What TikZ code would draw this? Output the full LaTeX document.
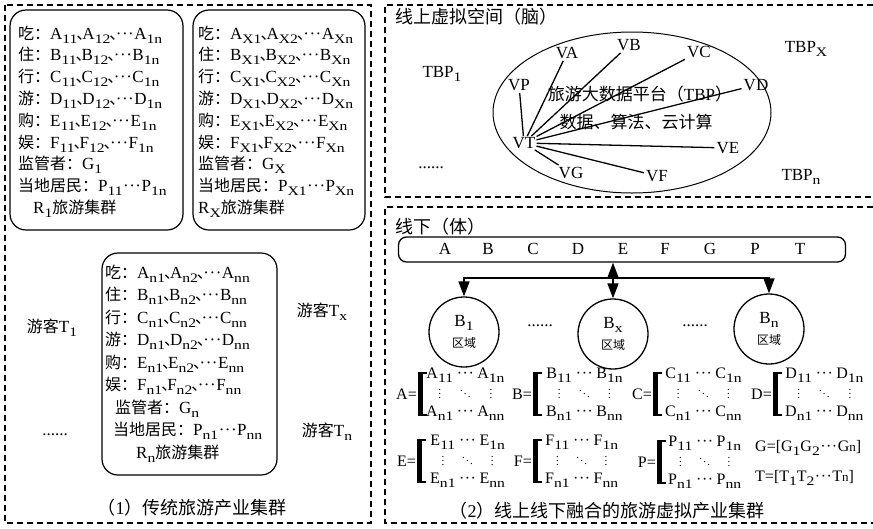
\documentclass[tikz,border=0pt]{standalone}
\usepackage{fontspec}
\setmainfont{Liberation Serif}
\newfontfamily\cjk{Noto Sans CJK SC}
\newfontfamily\subf[FakeStretch=1.2]{Liberation Serif}
\usetikzlibrary{arrows.meta,shapes.geometric}
\newcommand\zh[1]{{\cjk #1}}
\newcommand\zb[1]{{\cjk\fontsize{16}{21}\selectfont #1}}
\newcommand\dn{\makebox[5pt][l]{\kern-1pt\cjk\fontsize{16}{21}\selectfont 、}}
\newcommand\sbs[1]{\raisebox{-4pt}{\subf\fontsize{13}{13}\selectfont #1}}
\newcommand\ddd{\kern0.5pt·\kern0.5pt·\kern0.5pt·\kern0.5pt}
\newcommand\vd{\smash{\raisebox{-1pt}{\fontsize{11}{11}\selectfont$\vdots$}}}
\newcommand\dd{\smash{\raisebox{-1pt}{\fontsize{11}{11}\selectfont$\ddots$}}}

\tikzset{
 frame/.style={draw, line width=1.4pt, dash pattern=on 6pt off 4pt},
 rbox/.style={draw, line width=1.2pt, rounded corners=16pt},
 txt/.style={inner sep=0pt, font=\fontsize{17}{21}\selectfont},
 ln/.style={txt, anchor=base west},
 lbl/.style={inner sep=0pt, font=\fontsize{18}{22}\selectfont},
 vlab/.style={inner sep=2pt, font=\fontsize{17}{20}\selectfont},
 spoke/.style={line width=1.3pt},
 circ/.style={draw, circle, line width=1.3pt, minimum size=70pt, inner sep=0pt, align=center, font=\fontsize{17}{21}\selectfont},
 arr/.style={line width=1.4pt, -{Triangle[length=15pt,width=11pt]}},
 mt/.style={inner sep=0pt, font=\fontsize{16}{19}\selectfont},
 brk/.style={line width=1.2pt},
 brkt/.style={line width=3.5pt},
}

\newcommand\mtx[4]{%
  \node[mt, anchor=east] (#1eq) at (#2-2,#3) {#1=};
  \draw[brk] (#2+8,#3-21) -- (#2,#3-21) -- (#2,#3+21) -- (#2+8,#3+21);
  \draw[brkt] (#2+1.75,#3-21) -- (#2+1.75,#3+21);
  \node[mt, anchor=west] (#1m) at (#2+#4,#3) {\begin{tabular}{@{}c@{\hspace{3pt}}c@{\hspace{3pt}}c@{}}
    #1\sbs{11} & \ddd & #1\sbs{1n}\\
    \vd & \dd & \vd\\
    #1\sbs{n1} & \ddd & #1\sbs{nn}
  \end{tabular}};
}

\begin{document}
\begin{tikzpicture}[x=1pt,y=-1pt]
\useasboundingbox (0,0) rectangle (873,528);

% ---------- frames ----------
\draw[frame] (5,5) rectangle (371,523);
\draw[frame] (873,5) -- (385,5) -- (385,197) -- (873,197);
\draw[frame] (873,207) -- (385,207) -- (385,523) -- (873,523);

% ---------- left: traditional clusters ----------
\draw[rbox] (10,10) rectangle (183,230);
\draw[rbox] (193,10) rectangle (365,230);
\draw[rbox] (102,253) rectangle (277,475);

\foreach \L/\c [count=\i] in {A/吃,B/住,C/行,D/游,E/购,F/娱} {
  \node[ln] (r1\L) at (18,{39+21.8*(\i-1)}) {\zb{\c：}\L\sbs{11}\dn\L\sbs{12}\dn\ddd\L\sbs{1n}};
  \node[ln] (rx\L) at (198,{39+21.8*(\i-1)}) {\zb{\c：}\L\sbs{X1}\dn\L\sbs{X2}\dn\ddd\L\sbs{Xn}};
  \node[ln] (rn\L) at (105,{278+22.5*(\i-1)}) {\zb{\c：}\L\sbs{n1}\dn\L\sbs{n2}\dn\ddd\L\sbs{nn}};
}
\node[ln] (r1G) at (18,169.8) {\zb{监管者：}G\sbs{1}};
\node[ln] (r1P) at (18,191.6) {\zb{当地居民：}P\sbs{11}\ddd P\sbs{1n}};
\node[ln] (r1R) at (33,213.4) {R\sbs{1}\zb{旅游集群}};
\node[ln] (rxG) at (198,169.8) {\zb{监管者：}G\sbs{X}};
\node[ln] (rxP) at (198,191.6) {\zb{当地居民：}P\sbs{X1}\ddd P\sbs{Xn}};
\node[ln] (rxR) at (198,213.4) {R\sbs{X}\zb{旅游集群}};
\node[ln] (rnG) at (115,413) {\zb{监管者：}G\sbs{n}};
\node[ln] (rnP) at (113,435.5) {\zb{当地居民：}P\sbs{n1}\ddd P\sbs{nn}};
\node[ln] (rnR) at (136,458) {R\sbs{n}\zb{旅游集群}};

\node[txt] (t1) at (52,328) {\zb{游客}T\sbs{1}};
\node[txt] (tx) at (322,312) {\zb{游客}T\sbs{x}};
\node[txt] (tn) at (327,432) {\zb{游客}T\sbs{n}};
\node[txt] (ldots) at (55,435) {......};
\node[lbl] (cap1) at (192,508) {\zh{（}1\zh{）传统旅游产业集群}};

% ---------- right top: online space ----------
\node[lbl, anchor=base west] (online) at (395,23) {\zh{线上虚拟空间（脑）}};
\node[draw, ellipse, line width=1pt, minimum width=278pt, minimum height=161pt, inner sep=0pt] (plat) at (632,112.5) {};
\node[lbl, font=\fontsize{17}{21}\selectfont] (platA) at (640,94) {\zh{旅游大数据平台（}TBP\zh{）}};
\node[lbl, font=\fontsize{17}{21}\selectfont] (platB) at (636,122) {\zh{数据、算法、云计算}};

\node[vlab, inner sep=1pt] (VT) at (524,143) {VT};
\node[vlab] (VP) at (519,85) {VP};
\node[vlab] (VA) at (567,53) {VA};
\node[vlab] (VB) at (629,45) {VB};
\node[vlab] (VC) at (699,52) {VC};
\node[vlab] (VD) at (756,85) {VD};
\node[vlab] (VE) at (728,148) {VE};
\node[vlab] (VF) at (657,176) {VF};
\node[vlab] (VG) at (571,173) {VG};
\foreach \t in {VP,VA,VB,VC,VD,VE,VF,VG} \draw[spoke] (VT) -- (\t);

\node[txt] (tbp1) at (442,74) {TBP\sbs{1}};
\node[txt] (tbpx) at (806,49) {TBP\sbs{X}};
\node[txt] (tbpn) at (801,177) {TBP\sbs{n}};
\node[txt] (rdots) at (431,168) {......};

% ---------- right bottom: offline ----------
\node[lbl, anchor=base west] (offline) at (395,233) {\zh{线下（体）}};
\node[draw, rounded corners=8pt, line width=1.3pt, minimum width=447pt, minimum height=25pt, inner sep=0pt] (bar) at (622,249.5) {};
\foreach \L/\xx in {A/445,B/488,C/533,D/578,E/623,F/665,G/710,P/755,T/800}
  \node[txt] (bar\L) at (\xx,249) {\L};

\node[circ] (B1) at (464,332) {B\sbs{1}\\{\cjk\fontsize{12}{14}\selectfont 区域}};
\node[circ] (Bx) at (613,334) {B\sbs{x}\\{\cjk\fontsize{12}{14}\selectfont 区域}};
\node[circ] (Bn) at (769,329) {B\sbs{n}\\{\cjk\fontsize{12}{14}\selectfont 区域}};
\coordinate (hub) at (613,278);
\draw[arr] (hub) -- (bar.south -| hub);
\draw[arr] (hub) -- (Bx);
\draw[arr] (hub) -| (B1);
\draw[arr] (hub) -| (Bn);
\node[txt] (cd1) at (540,326) {......};
\node[txt] (cd2) at (695,326) {......};

\mtx{A}{419}{394}{7}
\mtx{B}{534}{394}{12}
\mtx{C}{654}{394}{11}
\mtx{D}{774}{394}{11}
\mtx{E}{418}{461}{12}
\mtx{F}{534}{461}{11}
\mtx{P}{658}{462}{10}
\node[mt, anchor=west] (Gv) at (755,448) {G=[G\sbs{1}G\sbs{2}\ddd G{\fontsize{13}{13}\selectfont n}]};
\node[mt, anchor=west] (Tv) at (755,478) {T=[T\sbs{1}T\sbs{2}\ddd T{\fontsize{13}{13}\selectfont n}]};
\node[lbl] (cap2) at (607,511) {\zh{（}2\zh{）线上线下融合的旅游虚拟产业集群}};
\end{tikzpicture}
\end{document}
